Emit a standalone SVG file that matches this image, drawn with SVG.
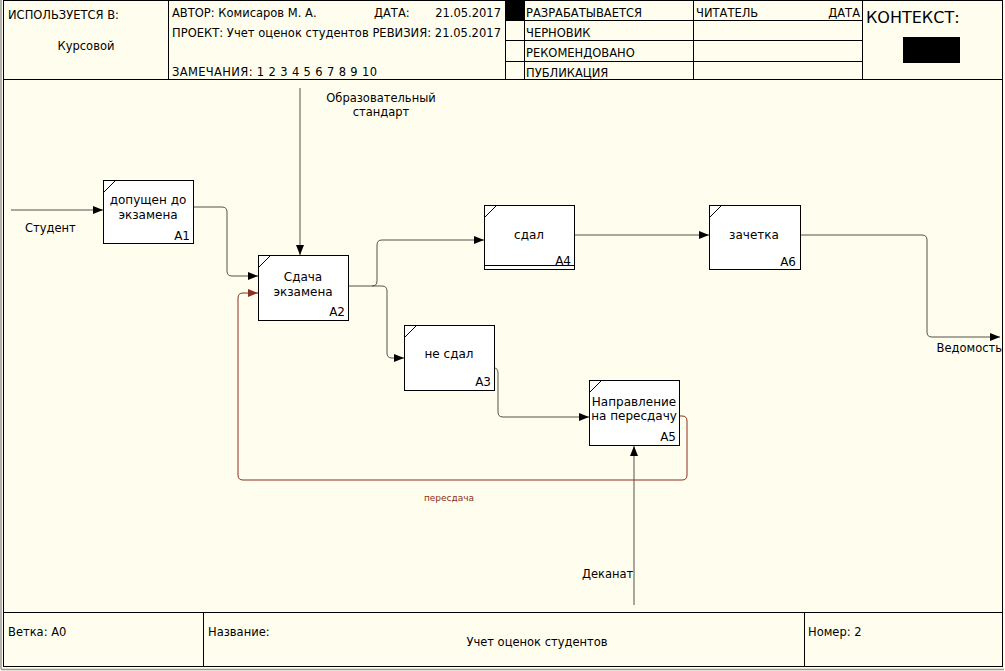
<svg xmlns="http://www.w3.org/2000/svg" width="1005" height="671" viewBox="0 0 1005 671">
<defs>
<style>
.fr{fill:none;stroke:#000;stroke-width:1}
.t{font-family:"DejaVu Sans",sans-serif;font-size:11.5px;fill:#000}
.bt{font-family:"DejaVu Sans",sans-serif;font-size:12px;fill:#000;text-anchor:middle}
.nm{font-family:"DejaVu Sans",sans-serif;font-size:12px;fill:#000;text-anchor:end}
.box{fill:#fff;stroke:#000;stroke-width:1}
.c{fill:none;stroke:#555048;stroke-width:1}
.cr{fill:none;stroke:#8b2f22;stroke-width:1}
</style>
<marker id="ar" markerWidth="11" markerHeight="8" refX="10" refY="4" orient="auto" markerUnits="userSpaceOnUse"><path d="M0,0 L10,4 L0,8 z" fill="#000"/></marker>
<marker id="arr" markerWidth="11" markerHeight="8" refX="10" refY="4" orient="auto" markerUnits="userSpaceOnUse"><path d="M0,0 L10,4 L0,8 z" fill="#8b2f22"/></marker>
</defs>
<rect x="0" y="0" width="1005" height="671" fill="#fffeee"/>
<g id="frame">
<line x1="1" y1="0" x2="1" y2="669" stroke="#999" stroke-width="1.5"/>
<line x1="1" y1="669.5" x2="1004" y2="669.5" stroke="#999" stroke-width="1.5"/>
<rect class="fr" x="3.5" y="0.5" width="999" height="666"/>
<line class="fr" x1="3.5" y1="79.5" x2="1002.5" y2="79.5"/>
<line class="fr" x1="168.5" y1="0" x2="168.5" y2="79.5"/>
<line class="fr" x1="505.5" y1="0" x2="505.5" y2="79.5"/>
<line class="fr" x1="524.5" y1="0" x2="524.5" y2="79.5"/>
<line class="fr" x1="693.5" y1="0" x2="693.5" y2="79.5"/>
<line class="fr" x1="862.5" y1="0" x2="862.5" y2="79.5"/>
<line class="fr" x1="505.5" y1="20.5" x2="862.5" y2="20.5"/>
<line class="fr" x1="505.5" y1="40.5" x2="862.5" y2="40.5"/>
<line class="fr" x1="505.5" y1="61.5" x2="862.5" y2="61.5"/>
<rect x="505" y="0" width="19" height="20" fill="#000"/>
<rect x="903" y="37" width="57" height="26" fill="#000"/>
<line class="fr" x1="3.5" y1="612.5" x2="1002.5" y2="612.5"/>
<line class="fr" x1="203.5" y1="612.5" x2="203.5" y2="666.5"/>
<line class="fr" x1="804.5" y1="612.5" x2="804.5" y2="666.5"/>
<text class="t" x="8" y="19">ИСПОЛЬЗУЕТСЯ В:</text>
<text class="t" x="86" y="50" text-anchor="middle">Курсовой</text>
<text class="t" x="172" y="17">АВТОР: Комисаров М. А.</text>
<text class="t" x="374" y="17">ДАТА:</text>
<text class="t" x="501" y="17" text-anchor="end">21.05.2017</text>
<text class="t" x="172" y="37" textLength="329" lengthAdjust="spacing">ПРОЕКТ: Учет оценок студентов РЕВИЗИЯ: 21.05.2017</text>
<text class="t" x="172" y="76" textLength="205" lengthAdjust="spacing">ЗАМЕЧАНИЯ:  1  2  3  4  5  6  7  8  9  10</text>
<text class="t" x="526" y="17">РАЗРАБАТЫВАЕТСЯ</text>
<text class="t" x="526" y="37">ЧЕРНОВИК</text>
<text class="t" x="526" y="57">РЕКОМЕНДОВАНО</text>
<text class="t" x="526" y="77">ПУБЛИКАЦИЯ</text>
<text class="t" x="696" y="17">ЧИТАТЕЛЬ</text>
<text class="t" x="860" y="17" text-anchor="end">ДАТА</text>
<text class="t" x="866" y="23" style="font-size:16px">КОНТЕКСТ:</text>
<text class="t" x="8" y="636">Ветка: А0</text>
<text class="t" x="208" y="636">Название:</text>
<text class="t" x="537" y="646" text-anchor="middle">Учет оценок студентов</text>
<text class="t" x="808" y="636">Номер: 2</text>
</g>
<g id="connectors">
<path class="c" d="M11,210 H103" marker-end="url(#ar)"/>
<text class="t" x="25" y="232">Студент</text>
<path class="c" d="M193,207 H222 Q227,207 227,212 V271 Q227,276 232,276 H258" marker-end="url(#ar)"/>
<path class="c" d="M300,88 V255" marker-end="url(#ar)"/>
<text class="t" x="381" y="102" text-anchor="middle">Образовательный</text>
<text class="t" x="381" y="116" text-anchor="middle">стандарт</text>
<path class="c" d="M348,286 H372 Q377,286 377,281 V245 Q377,240 382,240 H484" marker-end="url(#ar)"/>
<path class="c" d="M372,286 H382 Q387,286 387,291 V353 Q387,358 392,358 H404" marker-end="url(#ar)"/>
<path class="c" d="M575,235 H709" marker-end="url(#ar)"/>
<path class="c" d="M801,235 H922 Q927,235 927,240 V332 Q927,337 932,337 H1000" marker-end="url(#ar)"/>
<text class="t" x="1002" y="352" text-anchor="end">Ведомость</text>
<path class="c" d="M494,368 Q498,368 498,373 V412 Q498,417 503,417 H589" marker-end="url(#ar)"/>
<path class="c" d="M634,605 V446" marker-end="url(#ar)"/>
<text class="t" x="582" y="578">Деканат</text>
<path class="cr" d="M679,416 H682 Q687,416 687,421 V475 Q687,480 682,480 H243 Q238,480 238,475 V298 Q238,293 243,293 H258" marker-end="url(#arr)"/>
<text class="t" x="449" y="501" text-anchor="middle" style="fill:#8b2f22;font-size:9px">пересдача</text>
</g>
<g id="A1">
<rect class="box" x="103.5" y="180.5" width="90" height="63"/>
<line class="fr" x1="103.5" y1="192.5" x2="115.5" y2="180.5"/>
<text class="bt" x="148" y="204">допущен до</text>
<text class="bt" x="148" y="219">экзамена</text>
<text class="nm" x="190" y="240">A1</text>
</g>
<g id="A2">
<rect class="box" x="258.5" y="255.5" width="90" height="65"/>
<line class="fr" x1="258.5" y1="267.5" x2="270.5" y2="255.5"/>
<text class="bt" x="303" y="281">Сдача</text>
<text class="bt" x="303" y="296">экзамена</text>
<text class="nm" x="345" y="316">A2</text>
</g>
<g id="A4">
<rect class="box" x="484.5" y="205.5" width="90" height="64"/>
<line class="fr" x1="484.5" y1="265.5" x2="574.5" y2="265.5"/>
<line class="fr" x1="484.5" y1="217.5" x2="496.5" y2="205.5"/>
<text class="bt" x="529" y="239">сдал</text>
<text class="nm" x="571" y="265">A4</text>
</g>
<g id="A6">
<rect class="box" x="709.5" y="205.5" width="91" height="64"/>
<line class="fr" x1="709.5" y1="217.5" x2="721.5" y2="205.5"/>
<text class="bt" x="754" y="239">зачетка</text>
<text class="nm" x="796" y="266">A6</text>
</g>
<g id="A3">
<rect class="box" x="404.5" y="325.5" width="90" height="65"/>
<line class="fr" x1="404.5" y1="337.5" x2="416.5" y2="325.5"/>
<text class="bt" x="449" y="358">не сдал</text>
<text class="nm" x="491" y="386">A3</text>
</g>
<g id="A5">
<rect class="box" x="589.5" y="380.5" width="90" height="65"/>
<line class="fr" x1="589.5" y1="392.5" x2="601.5" y2="380.5"/>
<text class="bt" x="634" y="406">Направление</text>
<text class="bt" x="634" y="420">на пересдачу</text>
<text class="nm" x="676" y="441">A5</text>
</g>
</svg>
